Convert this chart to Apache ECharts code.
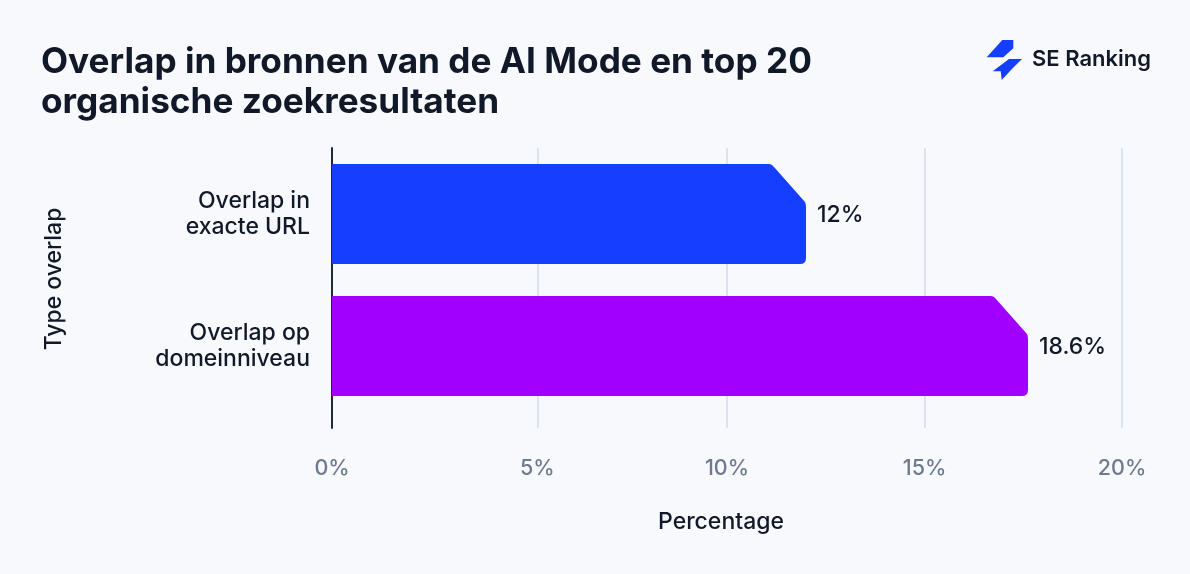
<!DOCTYPE html>
<html>
<head>
<meta charset="utf-8">
<style>
    html, body { margin: 0; padding: 0; background: #f7f9fd; }
    #container { width: 1190px; height: 574px; }
</style>
<script src="https://cdn.jsdelivr.net/npm/echarts@6/dist/echarts.min.js"></script>
</head>
<body>
<div id="container"></div>
<script>
const categories = ['Overlap in\nexacte URL', 'Overlap op\ndomeinniveau'];
// bar lengths as drawn in the picture, labels as printed on it
const barValues = [12, 17.62];
const barLabels = ['12%', '18.6%'];
const barColors = ['#153eff', '#a100ff'];
// the 5% gridline sits a bit right of its true place in the picture
const tickValues = [0, 5.2, 10, 15, 20];
const tickLabels = ['0%', '5%', '10%', '15%', '20%'];
const categorySlots = [0.5, 1.5];

const fontName = 'Inter';
const myChart = echarts.init(document.getElementById('container'));

/**
 * Bar with the clipped upper right corner
 */
function renderBar(params, api) {
    const i = params.dataIndex;
    const start = api.coord([0, api.value(1)]);
    const end = api.coord([api.value(0), api.value(1)]);
    const bandHeight = api.size([0, 1])[1];
    const h = bandHeight * 100 / 132;
    const x0 = start[0], x1 = end[0];
    const y0 = end[1] - h / 2, y1 = end[1] + h / 2;
    const cutX = 35, cutY = 41, r = 6;
    const d = [
        'M', x0, y0,
        'L', x1 - cutX - 2, y0,
        'Q', x1 - cutX + 1, y0, x1 - cutX + 3, y0 + 3,
        'L', x1 - 1, y0 + cutY - 3,
        'Q', x1, y0 + cutY - 1, x1, y0 + cutY + 2,
        'L', x1, y1 - r,
        'Q', x1, y1, x1 - r, y1,
        'L', x0, y1,
        'Z'
    ].join(' ');
    return {
        type: 'group',
        children: [{
            type: 'path',
            shape: { pathData: d, layout: 'cover', x: x0, y: y0, width: x1 - x0, height: y1 - y0 },
            style: { fill: barColors[i] }
        }, {
            type: 'text',
            x: x1 + 11,
            y: end[1] + 1,
            style: {
                text: barLabels[i],
                fill: '#111827',
                font: '500 23px ' + fontName,
                verticalAlign: 'middle'
            }
        }]
    };
}

const option = {
    backgroundColor: '#f7f9fd',
    animation: false,
    title: {
        text: 'Overlap in bronnen van de AI Mode en top 20\norganische zoekresultaten',
        left: 36,
        top: 37,
        textStyle: {
            color: '#111827',
            fontFamily: fontName,
            fontWeight: 700,
            fontSize: 35.2,
            lineHeight: 40
        }
    },
    grid: { left: 332, right: 68, top: 148, bottom: 146 },
    xAxis: {
        type: 'value',
        min: 0,
        max: 20,
        name: 'Percentage',
        nameLocation: 'middle',
        nameGap: 83,
        nameTextStyle: { color: '#111827', fontFamily: fontName, fontWeight: 500, fontSize: 23, padding: [0, 12, 0, 0] },
        axisLine: { show: false },
        axisTick: { show: false, customValues: tickValues },
        axisLabel: {
            customValues: tickValues,
            margin: 30,
            color: '#6f7a8f',
            fontFamily: fontName,
            fontWeight: 500,
            fontSize: 21.5,
            formatter: function (value) {
                return tickLabels[tickValues.indexOf(value)];
            }
        },
        splitLine: { show: true, lineStyle: { color: '#dbe3f1', width: 2 } }
    },
    yAxis: {
        type: 'value',
        inverse: true,
        min: 0,
        max: 280 / 132,
        name: 'Type overlap',
        nameLocation: 'middle',
        nameGap: 266,
        nameRotate: 90,
        nameTextStyle: { color: '#111827', fontFamily: fontName, fontWeight: 500, fontSize: 23, padding: [0, 0, 0, 18] },
        axisLine: { show: true, onZero: false, lineStyle: { color: '#1f2937', width: 2 } },
        axisTick: { show: false },
        axisLabel: {
            customValues: categorySlots,
            margin: 22,
            color: '#111827',
            fontFamily: fontName,
            fontWeight: 500,
            fontSize: 23,
            lineHeight: 26,
            align: 'right',
            padding: [2, 0, 0, 0],
            formatter: function (value) {
                return categories[categorySlots.indexOf(value)];
            }
        },
        splitLine: { show: false }
    },
    series: [{
        type: 'custom',
        renderItem: renderBar,
        encode: { x: 0, y: 1 },
        data: barValues.map(function (v, i) { return [v, categorySlots[i]]; }),
        z: 3
    }],
    graphic: [
        { type: 'polygon', shape: { points: [[986.7, 57.3], [1002.3, 40], [1013.3, 40], [1013.3, 48.3], [1003.3, 57.3]] }, style: { fill: '#153eff' } },
        { type: 'polygon', shape: { points: [[992.7, 71.3], [1009, 59], [1022, 59], [1011.7, 69.3], [1001.7, 80], [1000.7, 71.3]] }, style: { fill: '#153eff' } },
        { type: 'text', x: 1032, y: 59, style: { text: 'SE Ranking', fill: '#111827', font: '600 22px ' + fontName, verticalAlign: 'middle' } }
    ]
};

myChart.setOption(option);
</script>
</body>
</html>
